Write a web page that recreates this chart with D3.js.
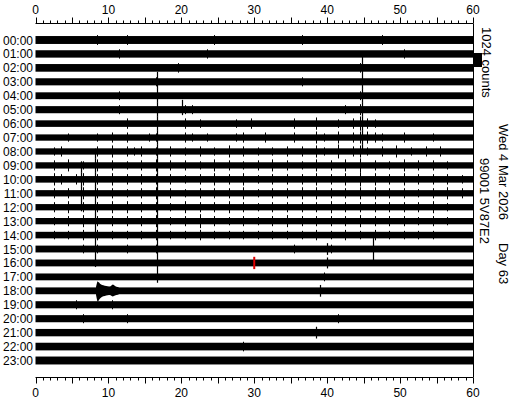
<!DOCTYPE html>
<html>
<head>
<meta charset="utf-8">
<script src="https://cdn.jsdelivr.net/npm/d3@7"></script>
<style>
  body { margin: 0; background: #fff; }
  text { font-family: "Liberation Sans", Arial, sans-serif; font-size: 12px; fill: #000; }
  .side { font-size: 13px; }
</style>
</head>
<body>
<svg id="chart" width="512" height="400"></svg>
<script>
// hour rows of the helicorder
const hours = ["00:00","01:00","02:00","03:00","04:00","05:00","06:00","07:00",
  "08:00","09:00","10:00","11:00","12:00","13:00","14:00","15:00",
  "16:00","17:00","18:00","19:00","20:00","21:00","22:00","23:00"];
const minuteTicks = [0, 10, 20, 30, 40, 50, 60];

// background noise half-amplitude per row (counts)
const noise = [290, 270, 280, 260, 250, 260, 240, 230, 230, 230, 240, 230,
  230, 230, 240, 250, 250, 250, 250, 260, 260, 270, 280, 290];

// extra spike height per minute (one digit per minute, ~70 counts per unit)
const bursts = [
  "000000001000100000000000100000000000100000000001000000000000",
  "000000000001000000000001000000000000000000000000001000000000",
  "000000000000000000010000000000000000000000001000000000000000",
  "000000000000000010000000000000000000100000000000000000000000",
  "000000000001000000000000000000000000000000001000000000000000",
  "000000000001000000001100000000000000000000102000000000000000",
  "000000000000200000002010000102000002003001024210000000000000",
  "000010001020200110002101000120020002003103023321002000100000",
  "001200002030212010201020103020101020203104023102030102020000",
  "002030103020102030202010302010203020103020304020103020201000",
  "003202302030202020201020302030102020203020304030203020202010",
  "002020302020102030201020202030102020303020203030202010203020",
  "002030202030302020103020203020102020202030202020202020301000",
  "001020302020202030102040201020102030202020203020202010201000",
  "001010202010101020101020101010101010102010201020101010100000",
  "000000101000100010000000000000000001000010000000000000000000",
  "000000000000000000000000000000000000000000000000000000000000",
  "000000000000000000000000000000000000000100000000000000000000",
  "000000000000000000000000000000000000000000000000000000000000",
  "000001000010000000000000000000000000000000000000000000000000",
  "000000100000100000000000000000000000000001000000000000000000",
  "000000000000000000000000000000000000000000000000000000000000",
  "000000000000000000000000000010000000000000000000000000000000",
  "000000000000000000000000000000000000000000000000000000000000"
];

// isolated spikes: [row, minute, up counts, down counts]
const spikes = [
  [3, 16.7, 730, 520], [4, 16.7, 520, 520], [5, 16.7, 520, 520], [6, 16.7, 520, 520],
  [7, 16.7, 520, 520], [8, 16.7, 520, 520], [9, 16.7, 520, 520], [10, 16.7, 520, 520],
  [11, 16.7, 520, 520], [12, 16.7, 520, 520], [13, 16.7, 520, 520], [14, 16.7, 520, 520],
  [15, 16.7, 520, 520], [16, 16.7, 520, 520], [17, 16.7, 520, 430],
  [1, 44.8, 100, 520], [2, 44.8, 520, 520], [3, 44.8, 520, 520], [4, 44.8, 520, 520],
  [5, 44.8, 520, 520], [6, 44.8, 520, 520], [7, 44.8, 520, 520], [8, 44.8, 520, 100],
  [8, 8.2, 200, 520], [9, 8.2, 520, 520], [10, 8.2, 520, 520], [11, 8.2, 520, 520],
  [12, 8.2, 520, 520], [13, 8.2, 520, 520], [14, 8.2, 520, 520], [15, 8.2, 520, 520],
  [16, 8.2, 520, 300],
  [9, 6.2, 300, 520], [10, 6.2, 520, 520], [11, 6.2, 520, 520], [12, 6.2, 520, 300],
  [5, 20.1, 720, 400],
  [15, 40.0, 430, 430], [16, 40.0, 400, 400],
  [15, 46.3, 800, 800],
  [18, 39.0, 430, 430], [21, 38.5, 430, 430]
];

// earthquake in the 18:00 row: minute / up / down envelope counts
const quakeMinutes = [8.3, 8.42, 8.5, 8.6, 8.72, 8.85, 9.0, 9.15, 9.3, 9.5, 9.7, 9.9,
  10.1, 10.3, 10.45, 10.6, 10.75, 10.9, 11.1, 11.4];
const quakeUp   = [300, 560, 700, 640, 600, 520, 470, 430, 400, 370, 350, 330,
  310, 330, 400, 470, 420, 350, 300, 260];
const quakeDown = [300, 620, 800, 760, 660, 560, 480, 430, 400, 370, 350, 330,
  310, 330, 380, 420, 380, 340, 300, 260];

// red marker on the 16:00 row
const marker = { row: 16, minute: 30.0, amp: 450 };

const svg = d3.select('#chart');

const x = d3.scaleLinear().domain([0, 60]).range([35.5, 473]);
const rowY = d3.scaleLinear().domain([0, 23]).range([40, 360.5]);
const k = 14 / 1024; // px per count

// top axis
const topAxis = svg.append('g').attr('transform', 'translate(0,23.5)');
topAxis.append('line').attr('x1', x(0)).attr('x2', x(60)).attr('stroke', '#000');
topAxis.selectAll('line.tick')
  .data(d3.range(0, 61))
  .join('line')
  .attr('class', 'tick')
  .attr('x1', d => Math.round(x(d)) + 0.5)
  .attr('x2', d => Math.round(x(d)) + 0.5)
  .attr('y1', 0)
  .attr('y2', d => d % 5 === 0 ? -6 : -3)
  .attr('stroke', '#000');
topAxis.selectAll('text')
  .data(minuteTicks)
  .join('text')
  .attr('x', d => x(d))
  .attr('y', -10)
  .attr('text-anchor', 'middle')
  .text(d => d);

// bottom axis
const botAxis = svg.append('g').attr('transform', 'translate(0,377.5)');
botAxis.append('line').attr('x1', x(0)).attr('x2', x(60)).attr('stroke', '#000');
botAxis.selectAll('line.tick')
  .data(d3.range(0, 61))
  .join('line')
  .attr('class', 'tick')
  .attr('x1', d => Math.round(x(d)) + 0.5)
  .attr('x2', d => Math.round(x(d)) + 0.5)
  .attr('y1', 0)
  .attr('y2', d => d % 5 === 0 ? 6 : 3)
  .attr('stroke', '#000');
botAxis.selectAll('text')
  .data(minuteTicks)
  .join('text')
  .attr('x', d => x(d))
  .attr('y', 19)
  .attr('text-anchor', 'middle')
  .text(d => d);

// right frame line
svg.append('line')
  .attr('x1', Math.round(x(60)) + 0.5).attr('x2', Math.round(x(60)) + 0.5)
  .attr('y1', 23.5).attr('y2', 377.5)
  .attr('stroke', '#000');

// hour labels
svg.append('g').selectAll('text')
  .data(hours)
  .join('text')
  .attr('x', 33)
  .attr('y', (d, i) => rowY(i) + 4.5)
  .attr('text-anchor', 'end')
  .text(d => d);

// traces
const traces = svg.append('g');
hours.forEach((h, i) => {
  const cy = rowY(i);
  traces.append('rect')
    .attr('x', x(0))
    .attr('width', x(60) - x(0))
    .attr('y', cy - noise[i] * k)
    .attr('height', noise[i] * k * 2)
    .attr('fill', '#000');

  const b = bursts[i].split('').map(Number);
  traces.append('g').selectAll('line')
    .data(b.map((v, m) => ({ m, v })).filter(d => d.v > 0))
    .join('line')
    .attr('x1', d => Math.round(x(d.m + 0.5)) + 0.5)
    .attr('x2', d => Math.round(x(d.m + 0.5)) + 0.5)
    .attr('y1', d => cy - (noise[i] + d.v * 70) * k)
    .attr('y2', d => cy + (noise[i] + d.v * 70) * k)
    .attr('stroke', '#000');
});

traces.append('g').selectAll('line')
  .data(spikes)
  .join('line')
  .attr('x1', d => Math.round(x(d[1])) + 0.5)
  .attr('x2', d => Math.round(x(d[1])) + 0.5)
  .attr('y1', d => rowY(d[0]) - d[2] * k)
  .attr('y2', d => rowY(d[0]) + d[3] * k)
  .attr('stroke', '#000')
  .attr('stroke-width', 1.2);

// earthquake envelope
const quake = quakeMinutes.map((m, j) => ({ m, up: quakeUp[j], down: quakeDown[j] }));
traces.append('path')
  .datum(quake)
  .attr('fill', '#000')
  .attr('d', d3.area()
    .x(d => x(d.m))
    .y0(d => rowY(18) + d.down * k)
    .y1(d => rowY(18) - d.up * k));

// red marker
svg.append('rect')
  .attr('x', x(marker.minute) - 1)
  .attr('width', 2)
  .attr('y', rowY(marker.row) - marker.amp * k)
  .attr('height', marker.amp * k * 2)
  .attr('fill', '#e00000');

// scale bar
svg.append('rect')
  .attr('x', 474)
  .attr('width', 8)
  .attr('y', 53)
  .attr('height', 1024 * k)
  .attr('fill', '#000');

svg.append('text')
  .attr('class', 'side')
  .attr('transform', 'translate(482,27) rotate(90)')
  .text('1024 counts');

svg.append('text')
  .attr('class', 'side')
  .attr('transform', 'translate(499,124) rotate(90)')
  .text('Wed 4 Mar 2026');

svg.append('text')
  .attr('class', 'side')
  .attr('transform', 'translate(499,243) rotate(90)')
  .text('Day 63');

svg.append('text')
  .attr('class', 'side')
  .attr('transform', 'translate(480,158) rotate(90)')
  .text('99001 5V87E2');
</script>
</body>
</html>
